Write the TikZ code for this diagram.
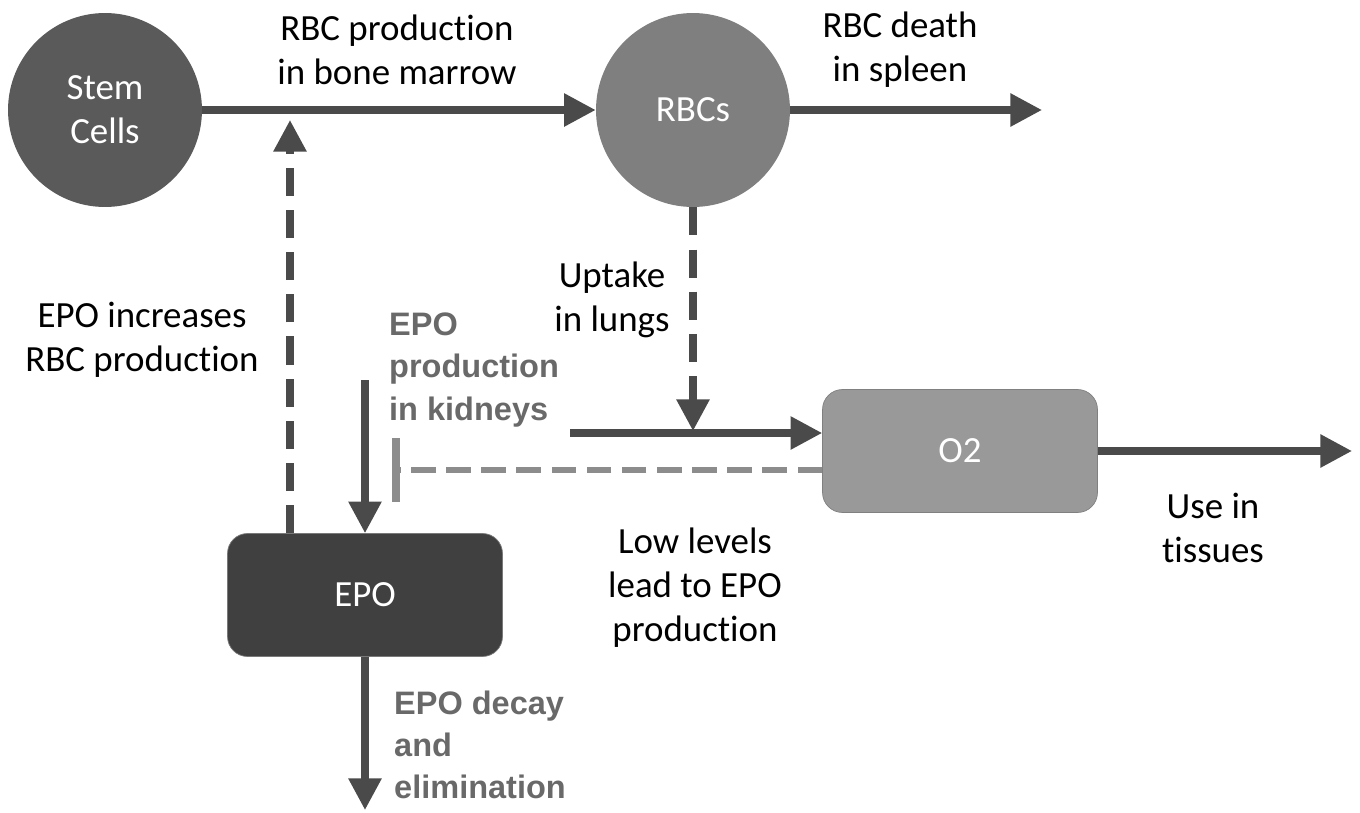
\documentclass[tikz,border=0pt]{standalone}
\usepackage{fontspec}
\setmainfont{Carlito}[Ligatures={NoCommon}]
\newfontfamily\labsans{Liberation Sans}
\usepackage{xcolor}
\definecolor{stemgray}{RGB}{90,90,90}
\definecolor{rbcgray}{RGB}{127,127,127}
\definecolor{oxgray}{RGB}{153,153,153}
\definecolor{epogray}{RGB}{64,64,64}
\definecolor{linegray}{RGB}{74,74,74}
\definecolor{inhgray}{RGB}{140,140,140}
\definecolor{labgray}{RGB}{105,105,105}
\usetikzlibrary{arrows.meta}
\tikzset{
  pool_circ/.style={circle,minimum size=3.88cm,inner sep=0pt,align=center,
    text=white,font=\fontsize{21}{25}\selectfont},
  pool_box/.style={rectangle,rounded corners=0.4cm,minimum width=5.5cm,
    minimum height=2.46cm,text=white,font=\fontsize{21}{25}\selectfont},
  flow_arr/.style={-{Triangle[length=18pt,width=18pt]},line width=4pt,draw=linegray},
  reg_arr/.style={flow_arr,dash pattern=on 16pt off 8pt},
  inh_arr/.style={-{Bar[width=36pt,line width=4.4pt]},line width=3.6pt,draw=inhgray,
    dash pattern=on 14pt off 6pt},
  lab_txt/.style={align=center,font=\fontsize{21}{25}\selectfont},
  lab_bold/.style={align=left,anchor=west,text=labgray,
    font=\labsans\bfseries\fontsize{18.5}{24}\selectfont},
}
\begin{document}
\begin{tikzpicture}[x=0.02cm,y=-0.02cm]
  \useasboundingbox (0,0) rectangle (1360,812);
  % pools
  \node (stem) [pool_circ,fill=stemgray] at (105,110) {Stem\\Cells};
  \node (rbc) [pool_circ,fill=rbcgray] at (693,110) {RBCs};
  \node (o2) [pool_box,fill=oxgray,draw=gray] at (960,451) {O2};
  \node (epo) [pool_box,fill=epogray,draw=epogray!70] at (365,595) {EPO};
  % labels
  \node (lprod) [lab_txt] at (397,50) {RBC production\\in bone marrow};
  \node (ldeath) [lab_txt] at (900,50) {RBC death\\in spleen};
  \node (linc) [lab_txt] at (142,340) {EPO increases\\RBC production};
  \node (lupt) [lab_txt] at (612,300) {Uptake\\in lungs};
  \node (llow) [lab_txt] at (695,588) {Low levels\\lead to EPO\\production};
  \node (luse) [lab_txt] at (1213,528) {Use in\\tissues};
  \node (lkid) [lab_bold] at (383,370) {EPO\\production\\in kidneys};
  \node (ldec) [lab_bold] at (388,745) {EPO decay\\and\\elimination};
  % free ends
  \coordinate (death) at (1042,110);
  \coordinate (epoup) at (290,120);
  \coordinate (lung) at (693,431);
  \coordinate (air) at (570,433);
  \coordinate (lowend) at (392,470);
  \coordinate (kid) at (365,380);
  \coordinate (decay) at (365,810);
  \coordinate (tissue) at (1352,451);
  % flows
  \draw[flow_arr] (stem) -- (rbc);
  \draw[flow_arr] (rbc.east) -- (death);
  \draw[reg_arr] (epoup |- epo.north) -- (epoup);
  \draw[reg_arr] (rbc.south) -- (lung);
  \draw[flow_arr] (air) -- (air -| o2.west);
  \draw[inh_arr] (o2.west |- lowend) -- (lowend);
  \draw[flow_arr] (kid) -- (epo.north);
  \draw[flow_arr] (epo.south) -- (decay);
  \draw[flow_arr] (o2.east) -- (tissue);
\end{tikzpicture}
\end{document}
